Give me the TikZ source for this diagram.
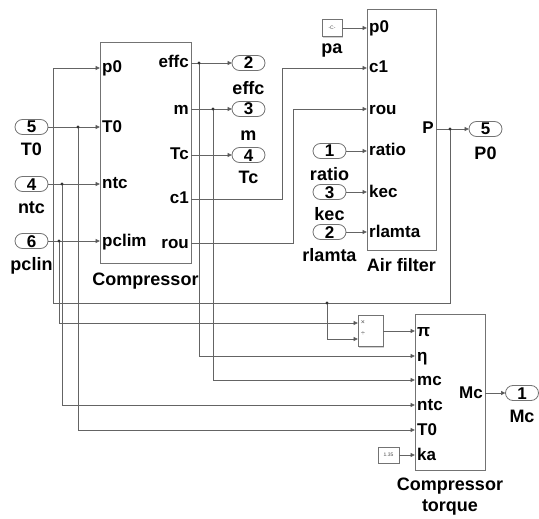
\documentclass[tikz,border=0pt]{standalone}
\usepackage{fontspec}
\setmainfont{Liberation Sans}
\usepackage{tikz}
\usetikzlibrary{arrows.meta, positioning, calc, shadows}
\definecolor{wirecol}{RGB}{100,100,100}
\definecolor{edgecol}{RGB}{115,115,115}

\tikzset{
  blk/.style={draw=edgecol, fill=white, line width=0.8pt, inner sep=0pt, outer sep=0pt,
    drop shadow={shadow xshift=1.2pt, shadow yshift=-1.2pt, opacity=0.3, fill=black!60}},
  port/.style={draw=edgecol, fill=white, line width=0.8pt, rounded corners=7.5pt,
    minimum width=33pt, minimum height=15pt, inner sep=0pt, outer sep=0pt,
    font=\fontsize{17}{18}\selectfont\bfseries, text height=12pt, text depth=0pt},
  plab/.style={inner sep=0pt, font=\fontsize{17}{19}\selectfont\bfseries, text height=12pt, text depth=2pt},
  nlab/.style={inner sep=0pt, anchor=base, font=\fontsize{18}{20}\selectfont\bfseries},
  tiny/.style={inner sep=0pt, font=\fontsize{5}{6}\selectfont, text=black!70},
  wire/.style={draw=wirecol, line width=0.9pt},
  sig/.style={wire, -{Triangle[length=4.5pt, width=4pt, fill=black!80]}},
}

\begin{document}
\begin{tikzpicture}[x=1pt, y=-1pt]
    \useasboundingbox (0,0) rectangle (539,519);

    % Compressor block
    \node[blk, minimum width=91pt, minimum height=221pt] (comp) at (145.5,152.5) {};
    \node[nlab] at (145.5,285) {Compressor};
    \foreach \pname/\yy in {p0/68, T0/127, ntc/184, pclim/241} {
        \coordinate (comp-in-\pname) at (100,\yy);
        \node[plab, anchor=west] at (102,\yy) {\pname};
    }
    \foreach \pname/\yy in {effc/63, m/109, Tc/155, c1/199, rou/243} {
        \coordinate (comp-out-\pname) at (191,\yy);
        \node[plab, anchor=east] at (189,\yy) {\pname};
    }

    % Air filter block
    \node[blk, minimum width=69pt, minimum height=241pt] (af) at (401.5,129.5) {};
    \node[nlab] at (401.5,271) {Air filter};
    \foreach \pname/\yy in {p0/28, c1/68, rou/109, ratio/151, kec/192, rlamta/232} {
        \coordinate (af-in-\pname) at (367,\yy);
        \node[plab, anchor=west] at (369,\yy) {\pname};
    }
    \coordinate (af-out-P) at (436,129);
    \node[plab, anchor=east] at (434,129) {P};

    % Compressor torque block
    \node[blk, minimum width=70pt, minimum height=156pt] (ct) at (450,392) {};
    \node[nlab] at (450,490) {Compressor};
    \node[nlab] at (450,511) {torque};
    \foreach \pname/\ptext/\yy in {pi/π/331, eta/η/356, mc/mc/380, ntc/ntc/405, T0/T0/430, ka/ka/455} {
        \coordinate (ct-in-\pname) at (415,\yy);
        \node[plab, anchor=west] at (417,\yy) {\ptext};
    }
    \coordinate (ct-out-Mc) at (485,393);
    \node[plab, anchor=east] at (483,393) {Mc};

    % Product and constants
    \node[blk, minimum width=25pt, minimum height=31pt] (prod) at (370.5,331) {};
    \coordinate (prod-in1) at (358,323);
    \coordinate (prod-in2) at (358,339);
    \node[tiny, font=\fontsize{7}{8}\selectfont] at (363,323) {×};
    \node[tiny, font=\fontsize{7}{8}\selectfont] at (363,334) {÷};
    \node[blk, minimum width=20pt, minimum height=17pt, tiny] (pa) at (332,28) {-C-};
    \node[nlab] at (332,54) {pa};
    \node[blk, minimum width=21pt, minimum height=16pt, tiny] (ka) at (388.5,455) {1.35};

    % Inports / outports
    \node[port] (in-T0) at (31.5,127) {5};
    \node[nlab] at (31.5,155) {T0};
    \node[port] (in-ntc) at (31.5,184) {4};
    \node[nlab] at (31.5,213) {ntc};
    \node[port] (in-pclin) at (31.5,241) {6};
    \node[nlab] at (31.5,270) {pclin};
    \node[port] (out-effc) at (248.5,63) {2};
    \node[nlab] at (248.5,95) {effc};
    \node[port] (out-m) at (248.5,109) {3};
    \node[nlab] at (248.5,140) {m};
    \node[port] (out-Tc) at (248.5,155) {4};
    \node[nlab] at (248.5,183) {Tc};
    \node[port] (in-ratio) at (329.5,151) {1};
    \node[nlab] at (329.5,180) {ratio};
    \node[port] (in-kec) at (329.5,192) {3};
    \node[nlab] at (329.5,220) {kec};
    \node[port] (in-rlamta) at (329.5,232) {2};
    \node[nlab] at (329.5,261) {rlamta};
    \node[port] (out-P0) at (485.5,129) {5};
    \node[nlab] at (485.5,160) {P0};
    \node[port] (out-Mc) at (522,393) {1};
    \node[nlab] at (522,422) {Mc};

    % Branch points
    \coordinate (j-T0) at (78,127);
    \coordinate (j-ntc) at (62,184);
    \coordinate (j-pclin) at (59,241);
    \coordinate (j-effc) at (199,63);
    \coordinate (j-m) at (213,109);
    \coordinate (j-P) at (450,129);
    \coordinate (j-P2) at (327,303);
    \coordinate (fb-corner) at (53,303);

    % Signals
    \draw[sig] (in-T0) -- (comp-in-T0);
    \draw[sig] (j-T0) |- (ct-in-T0);
    \draw[sig] (in-ntc) -- (comp-in-ntc);
    \draw[sig] (j-ntc) |- (ct-in-ntc);
    \draw[sig] (in-pclin) -- (comp-in-pclim);
    \draw[sig] (j-pclin) |- (prod-in1);
    \draw[sig] (comp-out-effc) -- (out-effc);
    \draw[sig] (j-effc) |- (ct-in-eta);
    \draw[sig] (comp-out-m) -- (out-m);
    \draw[sig] (j-m) |- (ct-in-mc);
    \draw[sig] (comp-out-Tc) -- (out-Tc);
    \draw[sig] (comp-out-c1) -- ++(91,0) |- (af-in-c1);
    \draw[sig] (comp-out-rou) -- ++(102,0) |- (af-in-rou);
    \draw[sig] (pa) -- (af-in-p0);
    \draw[sig] (in-ratio) -- (af-in-ratio);
    \draw[sig] (in-kec) -- (af-in-kec);
    \draw[sig] (in-rlamta) -- (af-in-rlamta);
    \draw[sig] (af-out-P) -- (out-P0);
    \draw[sig] (j-P) |- (fb-corner) |- (comp-in-p0);
    \draw[sig] (j-P2) |- (prod-in2);
    \draw[sig] (prod) -- (ct-in-pi);
    \draw[sig] (ka) -- (ct-in-ka);
    \draw[sig] (ct-out-Mc) -- (out-Mc);

    \foreach \j in {j-T0, j-ntc, j-pclin, j-effc, j-m, j-P, j-P2}
        \fill[black!80] (\j) circle (1.7);
\end{tikzpicture}
\end{document}
